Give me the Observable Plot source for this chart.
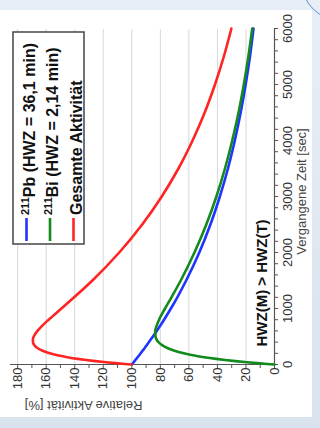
<!DOCTYPE html>
<html><head><meta charset="utf-8">
<script src="https://cdn.jsdelivr.net/npm/d3@7"></script>
<script src="https://cdn.jsdelivr.net/npm/@observablehq/plot@0.6"></script>
<style>
html,body{margin:0;padding:0;}
body{width:320px;height:428px;overflow:hidden;position:relative;background:linear-gradient(180deg,#e7eef6 0%,#d9e3ee 100%);font-family:"Liberation Sans",Arial,sans-serif;}
#panel{position:absolute;left:0;top:10px;width:312px;height:407px;background:#fff;}
#arc{position:absolute;left:301px;top:-59px;width:78px;height:78px;border-radius:50%;border:1.5px solid #5b8fcf;}
#chart{position:absolute;left:0;top:0;width:428px;height:320px;transform-origin:0 0;transform:translate(0,428px) rotate(-90deg);}
</style></head><body>
<div id="panel"></div><div id="arc"></div><div id="chart"></div>
<script>
// elapsed time [s]
const timeSec = [0,10,20,40,60,80,100,130,160,200,250,300,350,400,450,500,600,700,800,1000,1200,1500,2000,2500,3000,3500,4000,4500,5000,5500,6000];
// relative activity [%]
const pb211 = [100,99.7,99.4,98.7,98.1,97.5,96.9,95.9,95.0,93.8,92.3,90.8,89.4,88.0,86.6,85.2,82.5,79.9,77.4,72.6,68.1,61.9,52.7,44.9,38.3,32.6,27.8,23.7,20.2,17.2,14.7];
const bi211 = [0,5.2,10.2,19.3,27.4,34.6,41.0,49.3,56.2,63.6,70.6,75.5,79.0,81.3,82.7,83.4,83.6,82.5,80.9,76.7,72.2,65.7,56.1,47.8,40.7,34.7,29.6,25.2,21.5,18.3,15.6];
const totalActivity = [100,104.9,109.6,118.0,125.5,132.1,137.9,145.2,151.2,157.4,162.9,166.4,168.4,169.3,169.3,168.7,166.1,162.5,158.3,149.3,140.4,127.6,108.8,92.7,79.0,67.3,57.4,48.9,41.7,35.5,30.2];

const seriesSup = ["211", "211", ""];
const seriesNames = ["Pb (HWZ = 36,1 min)", "Bi (HWZ = 2,14 min)", "Gesamte Aktivität"];
const seriesColors = ["#1f35ff", "#128a1c", "#ff2424"];

const timeLabelTicks = [0,1000,2000,3000,4000,5000,6000];
const activityLabelTicks = [0,20,40,60,80,100,120,140,160,180];
const activityGrid = [20,40,60,80,100,120,140,160,180];
const xLabel = "Vergangene Zeit [sec]";
const yLabel = "Relative Aktivität [%]";
const note = "HWZ(M) > HWZ(T)";

const rows = timeSec.map((t, i) => ({t, pb: pb211[i], bi: bi211[i], tot: totalActivity[i]}));

const chart = Plot.plot({
  width: 428, height: 320,
  marginLeft: 63, marginRight: 29, marginTop: 10, marginBottom: 46,
  style: {background: "transparent", fontFamily: "'Liberation Sans', Arial, sans-serif", fontSize: "13px", color: "#333", overflow: "visible"},
  x: {domain: [0, 6000], label: null},
  y: {domain: [0, 185], label: null},
  marks: [
    Plot.gridY(activityGrid, {stroke: "#d8d8d8", strokeOpacity: 1}),
    Plot.axisX(d3.range(0, 6001, 200), {tickSize: 4, tickPadding: 4, stroke: "#555", fill: "#333", label: null,
      tickFormat: d => timeLabelTicks.includes(d) ? String(d) : ""}),
    Plot.axisY(d3.range(0, 181, 10), {tickSize: 3, tickPadding: 0, stroke: "#555", fill: "#333", label: null,
      tickFormat: d => activityLabelTicks.includes(d) ? String(d) : ""}),
    Plot.ruleX([0], {stroke: "#555", strokeWidth: 1.2}),
    Plot.ruleY([0], {stroke: "#555", strokeWidth: 1.2}),
    Plot.line(rows, {x: "t", y: "pb", stroke: seriesColors[0], strokeWidth: 2.6, curve: "monotone-x"}),
    Plot.line(rows, {x: "t", y: "bi", stroke: seriesColors[1], strokeWidth: 2.6, curve: "monotone-x"}),
    Plot.line(rows, {x: "t", y: "tot", stroke: seriesColors[2], strokeWidth: 2.6, curve: "monotone-x"}),
    Plot.text([xLabel], {text: d => d, frameAnchor: "bottom", dx: 5, dy: 31, lineAnchor: "bottom", fill: "#444", fontSize: 13}),
    Plot.text([yLabel], {text: d => d, frameAnchor: "left", dx: -36, rotate: -90, lineAnchor: "bottom", fill: "#444", fontSize: 13}),
    Plot.text([note], {text: d => d, frameAnchor: "bottom-left", dx: 18, dy: -8, textAnchor: "start", lineAnchor: "bottom", fontWeight: "bold", fontSize: 15, fill: "#111"})
  ]
});

// legend
const svg = d3.select(chart);
const lg = svg.append("g").attr("font-family", "'Liberation Sans', Arial, sans-serif").attr("text-anchor", "start");
lg.append("rect").attr("x", 184).attr("y", 13).attr("width", 212).attr("height", 71)
  .attr("fill", "#fff").attr("stroke", "#444").attr("stroke-width", 1.5);
seriesNames.forEach((name, i) => {
  const yy = 26.5 + i * 23.5;
  lg.append("line").attr("x1", 187).attr("x2", 210).attr("y1", yy).attr("y2", yy)
    .attr("stroke", seriesColors[i]).attr("stroke-width", 2.6);
  const t = lg.append("text").attr("x", 213).attr("y", yy + 8).attr("font-size", 16)
    .attr("font-weight", "bold").attr("fill", "#111").attr("text-anchor", "start");
  if (seriesSup[i]) {
    t.append("tspan").attr("font-size", 11).attr("dy", -6).text(seriesSup[i]);
    t.append("tspan").attr("dy", 6).text(name);
  } else {
    t.text(name);
  }
});

document.getElementById("chart").appendChild(chart);
</script>
</body></html>
